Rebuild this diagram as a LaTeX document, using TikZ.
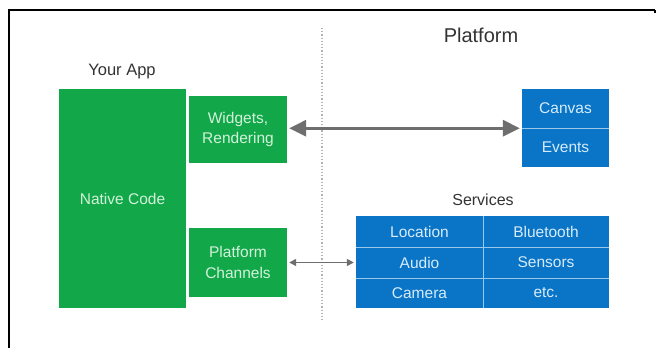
\documentclass[tikz,border=0pt]{standalone}
\usepackage{fontspec}
\setmainfont{Liberation Sans}
\usetikzlibrary{arrows.meta}
\definecolor{appgreen}{HTML}{12A84A}
\definecolor{plblue}{HTML}{0A74C6}
\definecolor{gtext}{HTML}{D2F2DA}
\definecolor{btext}{HTML}{D6ECFA}
\definecolor{arrowgray}{HTML}{6E6E6E}
\definecolor{titlegray}{HTML}{333333}
\tikzset{
  gbox/.style={fill=appgreen, draw=none, text=gtext, align=center, inner sep=0pt, font=\fontsize{15.5}{20.5}\selectfont},
  bbox/.style={fill=plblue, draw=none, text=btext, align=center, inner sep=0pt, font=\fontsize{15.5}{18}\selectfont},
  divider/.style={draw=btext!70!plblue, line width=1.2pt},
  title/.style={text=titlegray, inner sep=0pt},
  bigarrow/.style={draw=arrowgray, line width=3pt, {Triangle[length=17pt,width=16pt]}-{Triangle[length=17pt,width=16pt]}},
  smallarrow/.style={draw=arrowgray, line width=1.4pt, {Triangle[length=7pt,width=7pt]}-{Triangle[length=7pt,width=7pt]}},
}
\begin{document}
\begin{tikzpicture}[x=1pt,y=-1pt]
\useasboundingbox (0,0) rectangle (659,348);
\fill[white] (0,0) rectangle (659,348);
% frame
\draw[line width=1.2pt] (9,348) -- (9,10) -- (655,10);
\draw[line width=1.5pt] (8,10.5) -- (22,10.5);
\draw[line width=1.5pt] (655,10) -- (655,13);
% divider
\draw[gray!60, line width=1.2pt, dotted] (322,28) -- (322,320);
% titles
\node[title, font=\fontsize{16.5}{18}\selectfont] (yourapp) at (122,72) {Your App};
\node[title, font=\fontsize{20}{22}\selectfont] (platform) at (481,35) {Platform};
\node[title, font=\fontsize{16}{18}\selectfont] (services) at (483,200) {Services};
% green boxes
\node[gbox, minimum width=127pt, minimum height=219pt] (native) at (122.5,198.5) {Native Code};
\node[gbox, minimum width=98pt, minimum height=67pt] (widgets) at (238,129.5) {Widgets,\\Rendering};
\node[gbox, minimum width=98pt, minimum height=69pt] (channels) at (238,262.5) {Platform\\Channels};
% canvas/events
\node[bbox, minimum width=87pt, minimum height=39pt] (canvas) at (565.5,108.5) {Canvas};
\node[bbox, minimum width=87pt, minimum height=39pt] (events) at (565.5,147.5) {Events};
\draw[divider] (canvas.south west) -- (canvas.south east);
% services grid
\node[bbox, minimum width=127pt, minimum height=31pt] (location) at (419.5,231.5) {Location};
\node[bbox, minimum width=126pt, minimum height=31pt] (bluetooth) at (546,231.5) {Bluetooth};
\node[bbox, minimum width=127pt, minimum height=31pt] (audio) at (419.5,262.5) {Audio};
\node[bbox, minimum width=126pt, minimum height=31pt] (sensors) at (546,262.5) {Sensors};
\node[bbox, minimum width=127pt, minimum height=30pt] (camera) at (419.5,293) {Camera};
\node[bbox, minimum width=126pt, minimum height=30pt] (etc) at (546,293) {etc.};
\draw[divider] (location.south west) -- (bluetooth.south east);
\draw[divider] (audio.south west) -- (sensors.south east);
\draw[divider] (location.north east) -- (camera.south east);
% arrows
\draw[bigarrow] ([xshift=2pt]widgets.east |- canvas.south west) -- ([xshift=-2pt]canvas.south west);
\draw[smallarrow] ([xshift=2pt]channels.east |- audio.west) -- ([xshift=-2pt]audio.west);
\end{tikzpicture}
\end{document}
